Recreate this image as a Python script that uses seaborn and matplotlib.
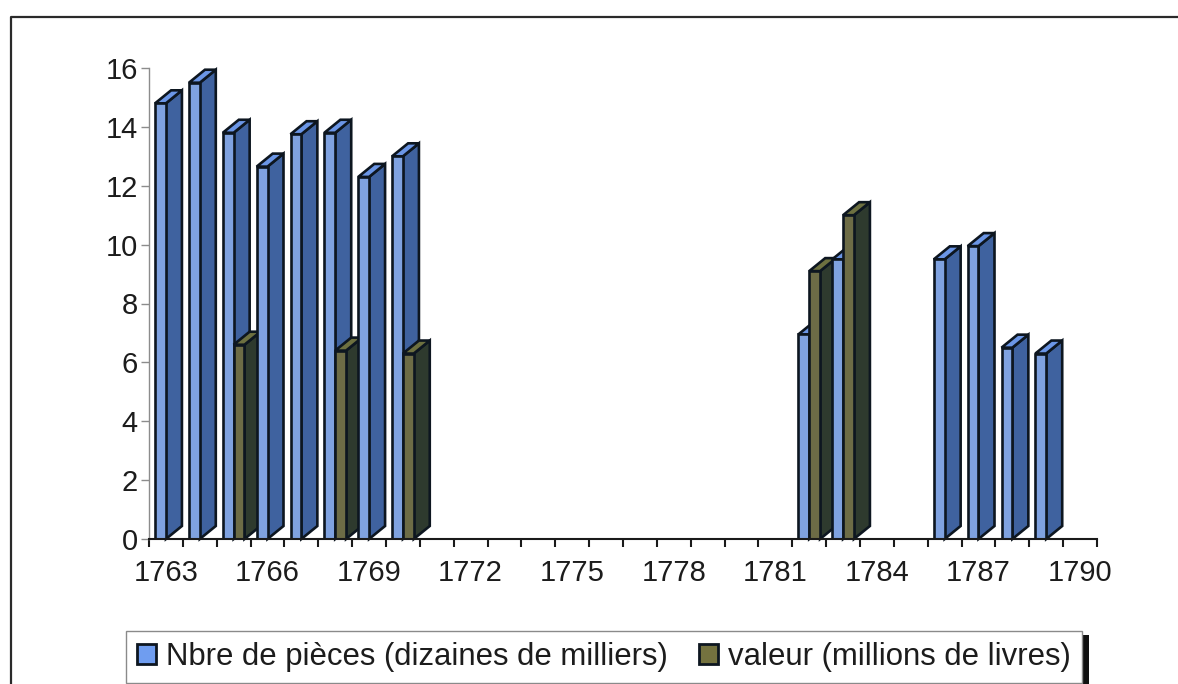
import numpy as np
import pandas as pd
import matplotlib
matplotlib.use("Agg")
import matplotlib.pyplot as plt
import seaborn as sns
from matplotlib.patches import Patch, Polygon, Rectangle
from matplotlib.lines import Line2D

years = list(range(1763, 1791))
n = np.nan
pieces = [14.8, 15.5, 13.8, 12.65, 13.75, 13.8, 12.3, 13.0,
          n, n, n, n, n, n, n, n, n, n, n,
          6.95, 9.5, n, n, 9.5, 9.95, 6.5, 6.3, n]
valeur = [n, n, 6.6, n, n, 6.4, n, 6.3,
          n, n, n, n, n, n, n, n, n, n, n,
          9.1, 11.0, n, n, n, n, n, n, n]
names = ["Nbre de pièces (dizaines de milliers)", "valeur (millions de livres)"]

front = ["#6f9df0", "#74723f"]
side = ["#3f629f", "#2e3a2e"]
top = ["#6b96e6", "#6d7040"]
edge = "#0d1620"

W, H = 1178, 684
left, right, bottom, upper = 149, 1097, 539, 68
depth_x, depth_y = 16, 13   # fake 3D depth, pixels

df = pd.DataFrame({"annee": years * 2,
                   "serie": [names[0]] * 28 + [names[1]] * 28,
                   "v": pieces + valeur})

sns.set_theme(style="white")
plt.rcParams["font.family"] = ["Liberation Sans", "DejaVu Sans"]

fig = plt.figure(figsize=(W / 100, H / 100), dpi=100, facecolor="white")
ax = fig.add_axes([left / W, 1 - bottom / H, (right - left) / W, (bottom - upper) / H])

sns.barplot(data=df, x="annee", y="v", hue="serie", order=years, hue_order=names,
            palette=front, width=0.64, gap=0, dodge=True, legend=False,
            edgecolor=edge, linewidth=1.9, ax=ax)

ax.set_xlim(-0.5, 27.5)
ax.set_ylim(0, 16)
dx = depth_x * 28 / (right - left)
dy = depth_y * 16 / (bottom - upper)

for s, cont in enumerate(ax.containers):
    for bar in cont:
        h = bar.get_height()
        if not h > 0:
            continue
        x1 = bar.get_x() + bar.get_width()
        x0 = bar.get_x()
        z = 3 + (x0 + 1) * 2 + s
        bar.set_zorder(z + 0.2)
        ax.add_patch(Polygon([(x1, 0), (x1, h), (x1 + dx, h + dy), (x1 + dx, dy)],
                             facecolor=side[s], edgecolor=edge, lw=1.9, zorder=z,
                             clip_on=False))
        ax.add_patch(Polygon([(x0, h), (x1, h), (x1 + dx, h + dy), (x0 + dx, h + dy)],
                             facecolor=top[s], edgecolor=edge, lw=1.9, zorder=z,
                             clip_on=False))

sns.despine(ax=ax)
ax.spines["left"].set_color("#8c8c8c")
ax.spines["left"].set_linewidth(1.0)
ax.spines["bottom"].set_color("#1a1a1a")
ax.spines["bottom"].set_linewidth(1.5)
ax.spines["bottom"].set_zorder(200)
ax.set_xlabel("")
ax.set_ylabel("")

ax.set_yticks(range(0, 17, 2))
ax.tick_params(axis="y", length=6, width=1.0, color="#8c8c8c", labelsize=21,
               labelcolor="#1c1c1c", pad=2, left=True)
# ticks between the years, labels centred on every third year
ax.set_xticks(np.arange(-0.5, 28, 1), labels=[""] * 29)
ax.set_xticks(np.arange(0, 28, 3), labels=[str(y) for y in years[::3]], minor=True)
ax.tick_params(axis="x", which="major", length=6, width=1.5, color="#1a1a1a", bottom=True)
ax.tick_params(axis="x", which="minor", length=0, labelsize=21, labelcolor="#1c1c1c", pad=14.5)

# outer frame, cut by the scan on the right and at the bottom
fig.add_artist(Line2D([10.5 / W, 10.5 / W, 1], [0, 1 - 16.5 / H, 1 - 16.5 / H],
                      color="#2a2a2a", lw=1.6))

# legend box and its black shadow
fig.add_artist(Rectangle((1082 / W, 0), 7 / W, (H - 635) / H, color="#111111", lw=0))
handles = [Patch(facecolor=front[0], edgecolor=edge, lw=2.0),
           Patch(facecolor=front[1], edgecolor=edge, lw=2.0)]
fig.legend(handles, names, loc="center", ncol=2, mode="expand",
           bbox_to_anchor=(126 / W, 0 / H, 956 / W, 54 / H), borderaxespad=0,
           fontsize=22.4, labelcolor="#1c1c1c", frameon=True, fancybox=False,
           edgecolor="#8a8a8a", framealpha=1, handlelength=0.6, handleheight=0.6,
           handletextpad=0.33, columnspacing=0.3, borderpad=0.36)

fig.savefig("out.png", dpi=100, facecolor="white")
